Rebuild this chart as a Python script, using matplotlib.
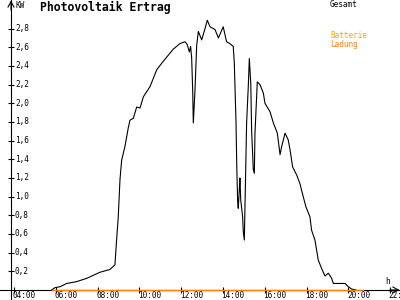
import matplotlib
matplotlib.use("Agg")
import matplotlib.pyplot as plt

# Gesamt-Ertrag (Stunden, kW)
stunden = [5.80, 5.96, 6.20, 6.52, 7.00, 7.48, 8.11, 8.59, 8.83, 8.91, 8.99, 9.07,
           9.15, 9.31, 9.47, 9.55, 9.71, 9.87, 10.03, 10.19, 10.51, 10.83, 11.14,
           11.62, 11.94, 12.18, 12.29, 12.39, 12.45, 12.50, 12.55, 12.58, 12.66,
           12.74, 12.82, 12.98, 13.14, 13.25, 13.38, 13.62, 13.78, 14.01, 14.17,
           14.33, 14.49, 14.54, 14.57, 14.62, 14.66, 14.70, 14.73, 14.78, 14.81,
           14.85, 14.94, 14.97, 15.02, 15.09, 15.13, 15.21, 15.26, 15.33, 15.37,
           15.45, 15.50, 15.53, 15.61, 15.64, 15.77, 15.93, 16.01, 16.25, 16.41,
           16.60, 16.73, 16.81, 16.97, 17.12, 17.21, 17.33, 17.53, 17.68, 17.84,
           17.97, 18.16, 18.24, 18.40, 18.56, 18.72, 18.88, 19.04, 19.20, 19.28,
           19.84, 20.00, 20.16, 20.36]
gesamt = [0.0, 0.025, 0.035, 0.07, 0.09, 0.125, 0.19, 0.22, 0.27, 0.54, 0.79, 1.18,
          1.39, 1.54, 1.74, 1.82, 1.84, 1.96, 1.95, 2.07, 2.18, 2.36, 2.45,
          2.58, 2.64, 2.66, 2.63, 2.55, 2.61, 2.49, 2.14, 1.79, 2.14,
          2.62, 2.77, 2.68, 2.80, 2.89, 2.82, 2.79, 2.70, 2.82, 2.66,
          2.64, 2.61, 2.44, 2.21, 1.82, 1.32, 0.96, 0.875, 1.07, 1.20,
          0.96, 0.785, 0.625, 0.535, 1.32, 1.79, 2.18, 2.48, 2.21, 1.71,
          1.29, 1.25, 1.68, 2.07, 2.23, 2.20, 2.11, 2.00, 1.91, 1.79,
          1.68, 1.45, 1.54, 1.68, 1.61, 1.50, 1.32, 1.23, 1.14, 1.00,
          0.89, 0.785, 0.64, 0.535, 0.32, 0.23, 0.15, 0.18, 0.125, 0.07,
          0.07, 0.035, 0.01, 0.0]

# Batterie-Ladung
ladung_h = [5.80, 20.71]
ladung = [0.0, 0.0]

xticks = [4, 6, 8, 10, 12, 14, 16, 18, 20, 22]
xlabels = ["04:00", "06:00", "08:00", "10:00", "12:00", "14:00", "16:00", "18:00", "20:00", "22:"]
yticks = [0.2, 0.4, 0.6, 0.8, 1.0, 1.2, 1.4, 1.6, 1.8, 2.0, 2.2, 2.4, 2.6, 2.8]

mono = "DejaVu Sans Mono"
fs = 5.6
lw = 0.8

fig = plt.figure(figsize=(4, 3), dpi=100)
ax = fig.add_axes([11 / 400, 10 / 300, 389 / 400, 290 / 300])
ax.set_xlim(3.856, 22.47)
ax.set_ylim(0, 3.107)
for s in ax.spines.values():
    s.set_visible(False)

ax.plot(stunden, gesamt, color="black", lw=lw, zorder=3)
ax.plot(ladung_h, ladung, color="#ff8000", lw=1.0, zorder=5, clip_on=False)

ax.set_xticks(xticks)
ax.set_xticklabels([])
ax.set_yticks(yticks)
ax.set_yticklabels([])
ax.tick_params(direction="inout", length=5, width=lw, color="black")

for t, lab in zip(xticks, xlabels):
    ax.annotate(lab, (t, 0), xytext=(-1.5, -5), textcoords="offset pixels",
                ha="left", va="center", fontsize=fs, family=mono, annotation_clip=False)
for v in yticks:
    ax.annotate(f"{v:.1f}".replace(".", ","), (3.856, v), xytext=(4, 0), textcoords="offset pixels",
                ha="left", va="center", fontsize=fs, family=mono, annotation_clip=False)

# Achsen mit Pfeilen (unter der Ladungslinie)
ax.plot([0, 1], [10 / 300, 10 / 300], color="black", lw=lw, transform=fig.transFigure,
        clip_on=False, zorder=1)
ax.plot([11 / 400, 11 / 400], [0, 1], color="black", lw=lw, transform=fig.transFigure,
        clip_on=False, zorder=1)
pfeil = dict(arrowstyle="->,head_length=0.4,head_width=0.22", lw=lw, color="black",
             shrinkA=0, shrinkB=0)
ax.annotate("", xy=(399.5 / 400, 10 / 300), xytext=(390 / 400, 10 / 300),
            xycoords="figure fraction", textcoords="figure fraction", annotation_clip=False,
            arrowprops=pfeil)
ax.annotate("", xy=(11 / 400, 299.5 / 300), xytext=(11 / 400, 290 / 300),
            xycoords="figure fraction", textcoords="figure fraction", annotation_clip=False,
            arrowprops=pfeil)

fig.text(15 / 400, 1 - 5 / 300, "KW", fontsize=fs, family=mono, va="center", ha="left")
fig.text(40 / 400, 1 - 7 / 300, "Photovoltaik Ertrag", fontsize=8.3, family=mono,
         weight="bold", va="center", ha="left")
fig.text(330 / 400, 1 - 4.5 / 300, "Gesamt", fontsize=fs, family=mono, va="center", ha="left")
fig.text(330 / 400, 1 - 36 / 300, "Batterie", fontsize=fs, family=mono, va="center", ha="left", color="#ffa500")
fig.text(330 / 400, 1 - 44 / 300, "Ladung", fontsize=fs, family=mono, va="center", ha="left", color="#ff8000")
fig.text(385 / 400, 1 - 282 / 300, "h", fontsize=fs, family=mono, va="center", ha="left")

fig.savefig("out.png", dpi=100)
